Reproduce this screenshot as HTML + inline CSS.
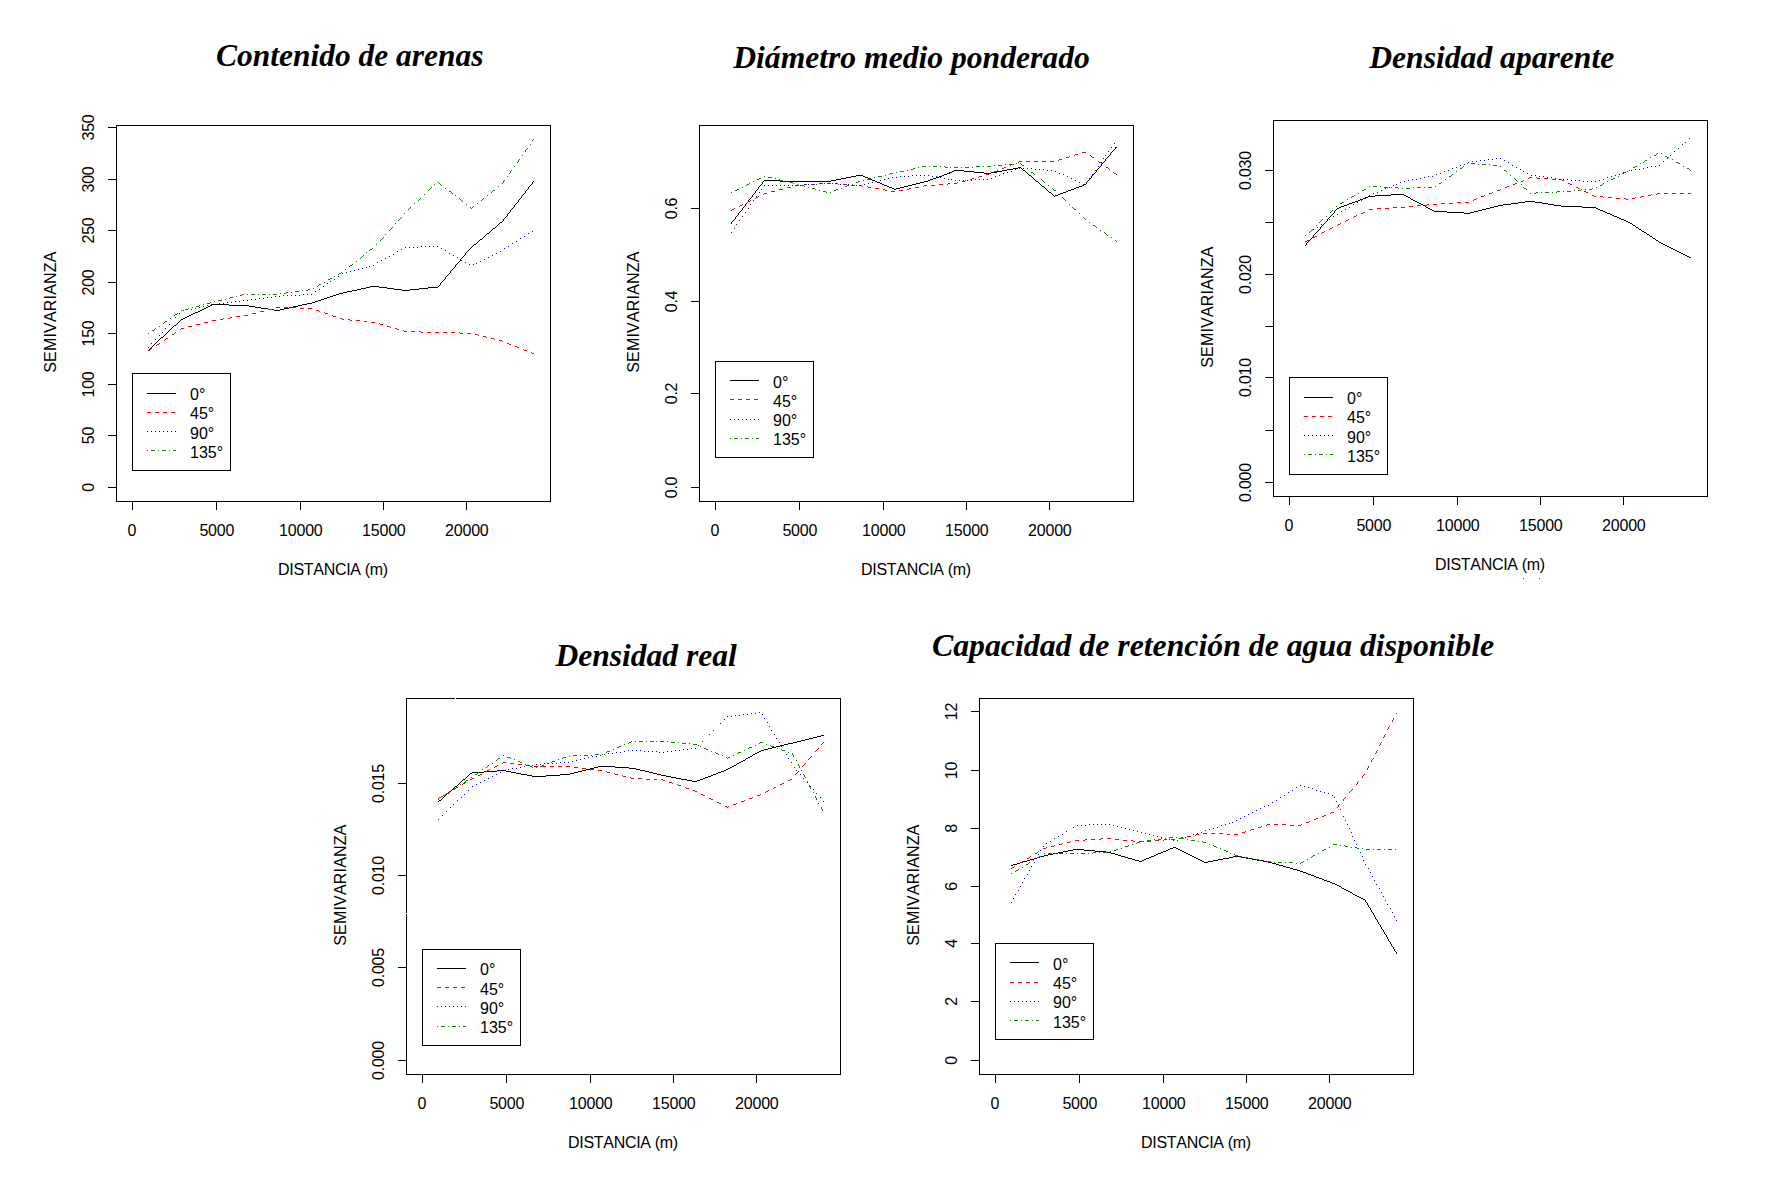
<!DOCTYPE html>
<html lang="es"><head><meta charset="utf-8"><title>Semivariogramas direccionales</title>
<style>html,body{margin:0;padding:0;background:#fff;overflow:hidden}svg{display:block}text{font-family:"Liberation Sans",Arial,sans-serif;font-size:16px;fill:#000;font-kerning:none}.t{font-family:"Liberation Serif","Times New Roman",serif;font-weight:bold;font-style:italic;font-size:32px}.n{letter-spacing:-0.22px}.ln{fill:none;stroke-width:1;shape-rendering:crispEdges}.ax{fill:none;stroke:#000;stroke-width:1;shape-rendering:crispEdges}</style></head><body>
<svg width="1768" height="1186" viewBox="0 0 1768 1186">
<rect width="1768" height="1186" fill="#fff"/>
<g id="panel1">
<text class="t" x="216" y="66" textLength="267.5" lengthAdjust="spacingAndGlyphs">Contenido de arenas</text>
<rect class="ax" x="116.5" y="125.5" width="434" height="376"/>
<text class="n" x="131.9" y="536" text-anchor="middle">0</text>
<text class="n" x="216.8" y="536" text-anchor="middle">5000</text>
<text class="n" x="300.8" y="536" text-anchor="middle">10000</text>
<text class="n" x="383.8" y="536" text-anchor="middle">15000</text>
<text class="n" x="466.8" y="536" text-anchor="middle">20000</text>
<text class="n" transform="translate(94 487.5) rotate(-90)" text-anchor="middle">0</text>
<text class="n" transform="translate(94 435.5) rotate(-90)" text-anchor="middle">50</text>
<text class="n" transform="translate(94 384.5) rotate(-90)" text-anchor="middle">100</text>
<text class="n" transform="translate(94 333.5) rotate(-90)" text-anchor="middle">150</text>
<text class="n" transform="translate(94 282.5) rotate(-90)" text-anchor="middle">200</text>
<text class="n" transform="translate(94 230.5) rotate(-90)" text-anchor="middle">250</text>
<text class="n" transform="translate(94 179.5) rotate(-90)" text-anchor="middle">300</text>
<text class="n" transform="translate(94 127.5) rotate(-90)" text-anchor="middle">350</text>
<path class="ax" d="M132.5 501.5V509.5M216.5 501.5V509.5M300.5 501.5V509.5M383.5 501.5V509.5M466.5 501.5V509.5M116.5 487.5H107.5M116.5 435.5H107.5M116.5 384.5H107.5M116.5 333.5H107.5M116.5 282.5H107.5M116.5 230.5H107.5M116.5 179.5H107.5M116.5 127.5H107.5"/>
<text x="333.1" y="575" text-anchor="middle" textLength="110.1">DISTANCIA (m)</text>
<text transform="translate(56 312.2) rotate(-90)" text-anchor="middle" textLength="121.2">SEMIVARIANZA</text>
<path class="ln" stroke="#000" d="M533 181.5h1M532 182.5h1M532 183.5h1M531 184.5h1M530 185.5h1M529 186.5h1M528 187.5h1M528 188.5h1M527 189.5h1M526 190.5h1M525 191.5h1M525 192.5h1M524 193.5h1M523 194.5h1M522 195.5h1M521 196.5h1M521 197.5h1M520 198.5h1M519 199.5h1M518 200.5h1M518 201.5h1M517 202.5h1M516 203.5h1M515 204.5h1M514 205.5h1M514 206.5h1M513 207.5h1M512 208.5h1M511 209.5h1M510 210.5h1M510 211.5h1M509 212.5h1M508 213.5h1M507 214.5h1M507 215.5h1M506 216.5h1M505 217.5h1M504 218.5h1M503 219.5h1M503 220.5h1M502 221.5h1M500 222.5h2M499 223.5h1M498 224.5h1M497 225.5h1M496 226.5h1M495 227.5h1M493 228.5h2M492 229.5h1M491 230.5h1M490 231.5h1M489 232.5h1M487 233.5h2M486 234.5h1M485 235.5h1M484 236.5h1M483 237.5h1M482 238.5h1M480 239.5h2M479 240.5h1M478 241.5h1M477 242.5h1M476 243.5h1M474 244.5h2M473 245.5h1M472 246.5h1M471 247.5h1M470 248.5h1M469 249.5h1M468 250.5h1M467 251.5h1M466 252.5h1M465 253.5h1M465 254.5h1M464 255.5h1M463 256.5h1M462 257.5h1M461 258.5h1M460 259.5h1M460 260.5h1M459 261.5h1M458 262.5h1M457 263.5h1M456 264.5h1M455 265.5h1M455 266.5h1M454 267.5h1M453 268.5h1M452 269.5h1M451 270.5h1M450 271.5h1M450 272.5h1M449 273.5h1M448 274.5h1M447 275.5h1M446 276.5h1M445 277.5h1M445 278.5h1M444 279.5h1M443 280.5h1M442 281.5h1M441 282.5h1M440 283.5h1M440 284.5h1M439 285.5h1M370 286.5h9M438 286.5h1M366 287.5h4M379 287.5h8M428 287.5h10M361 288.5h5M387 288.5h7M419 288.5h9M357 289.5h4M394 289.5h8M410 289.5h9M352 290.5h5M402 290.5h8M347 291.5h5M343 292.5h4M339 293.5h4M336 294.5h3M333 295.5h3M330 296.5h3M327 297.5h3M324 298.5h3M321 299.5h3M318 300.5h3M315 301.5h3M312 302.5h3M307 303.5h5M212 304.5h17M302 304.5h5M210 305.5h2M229 305.5h20M298 305.5h4M208 306.5h2M249 306.5h6M293 306.5h5M206 307.5h2M255 307.5h6M289 307.5h4M204 308.5h2M261 308.5h7M284 308.5h5M202 309.5h2M268 309.5h6M280 309.5h4M200 310.5h2M274 310.5h6M198 311.5h2M195 312.5h3M193 313.5h2M191 314.5h2M189 315.5h2M187 316.5h2M185 317.5h2M183 318.5h2M181 319.5h2M180 320.5h1M179 321.5h1M178 322.5h1M177 323.5h1M176 324.5h1M174 325.5h2M173 326.5h1M172 327.5h1M171 328.5h1M170 329.5h1M169 330.5h1M168 331.5h1M167 332.5h1M166 333.5h1M165 334.5h1M164 335.5h1M163 336.5h1M161 337.5h2M160 338.5h1M159 339.5h1M158 340.5h1M157 341.5h1M156 342.5h1M155 343.5h1M154 344.5h1M153 345.5h1M152 346.5h1M151 347.5h1M150 348.5h1M149 349.5h1M148 350.5h1"/>
<path class="ln" stroke="#f00" d="M276 307.5h4M284 307.5h4M292 307.5h4M300 308.5h4M308 308.5h4M268 309.5h4M316 310.5h3M260 311.5h4M319 311.5h1M324 312.5h1M252 313.5h4M325 313.5h3M244 315.5h4M332 315.5h1M236 316.5h4M333 316.5h3M230 317.5h2M223 318.5h1M228 318.5h2M340 318.5h2M220 319.5h3M342 319.5h2M348 319.5h2M212 320.5h4M350 320.5h2M356 320.5h4M364 321.5h3M204 322.5h4M371 322.5h4M379 323.5h1M196 324.5h4M380 324.5h3M188 326.5h4M387 326.5h3M390 327.5h1M181 328.5h3M395 328.5h2M180 329.5h1M397 329.5h2M403 330.5h1M404 331.5h3M411 331.5h4M419 331.5h2M175 332.5h1M421 332.5h2M427 332.5h4M435 332.5h4M443 332.5h4M451 332.5h4M459 332.5h1M174 333.5h1M460 333.5h3M467 333.5h4M172 334.5h2M475 334.5h3M478 335.5h1M483 336.5h3M486 337.5h1M166 338.5h2M491 338.5h3M165 339.5h1M494 339.5h1M164 340.5h1M499 340.5h3M502 341.5h1M159 343.5h1M507 343.5h2M157 344.5h2M509 344.5h2M156 345.5h1M515 346.5h2M517 347.5h2M151 348.5h1M150 349.5h1M523 349.5h1M148 350.5h2M524 350.5h3M531 352.5h1M532 353.5h2"/>
<path class="ln" stroke="#00f" d="M532 231.5h1M528 233.5h1M524 236.5h1M520 238.5h1M516 241.5h1M512 243.5h1M421 246.5h1M425 246.5h1M429 246.5h1M433 246.5h1M437 246.5h1M508 246.5h1M405 247.5h1M409 247.5h1M413 247.5h1M417 247.5h1M441 248.5h1M504 248.5h1M401 249.5h1M445 250.5h1M397 251.5h1M500 251.5h1M449 253.5h1M496 253.5h1M393 254.5h1M453 255.5h1M492 255.5h1M389 256.5h1M457 257.5h1M488 257.5h1M385 258.5h1M484 259.5h1M381 260.5h1M461 260.5h1M480 261.5h1M377 262.5h1M465 262.5h1M476 263.5h1M469 264.5h1M473 264.5h1M373 265.5h1M369 266.5h1M366 267.5h1M362 268.5h1M358 269.5h1M354 270.5h1M350 271.5h1M346 272.5h1M342 273.5h1M338 276.5h1M334 279.5h1M330 281.5h1M327 283.5h1M323 286.5h1M319 289.5h1M315 291.5h1M303 294.5h1M307 294.5h1M311 294.5h1M283 295.5h1M287 295.5h1M291 295.5h1M295 295.5h1M299 295.5h1M275 296.5h1M279 296.5h1M267 297.5h1M271 297.5h1M259 298.5h1M263 298.5h1M251 299.5h1M255 299.5h1M243 300.5h1M247 300.5h1M235 301.5h1M239 301.5h1M227 302.5h1M231 302.5h1M219 303.5h1M223 303.5h1M211 304.5h1M215 304.5h1M207 305.5h1M203 306.5h1M199 307.5h1M195 308.5h1M187 309.5h1M191 309.5h1M183 310.5h1M179 313.5h1M175 317.5h1M169 324.5h1M165 328.5h1M162 332.5h1M159 335.5h1M155 339.5h1M151 343.5h1M148 347.5h1"/>
<path class="ln" stroke="#008b00" d="M533 139.5h1M532 140.5h1M530 144.5h1M527 148.5h1M526 149.5h1M525 150.5h1M525 151.5h1M522 155.5h1M519 159.5h1M518 160.5h1M518 161.5h1M517 162.5h1M514 166.5h1M511 170.5h1M510 171.5h1M510 172.5h1M509 173.5h1M507 176.5h1M504 180.5h1M503 181.5h1M438 182.5h1M503 182.5h1M439 183.5h1M502 183.5h1M434 184.5h1M440 184.5h1M441 185.5h1M498 186.5h1M431 187.5h1M430 188.5h1M445 188.5h1M429 189.5h1M428 190.5h1M493 190.5h2M449 191.5h2M492 191.5h1M451 192.5h1M491 192.5h1M452 193.5h1M424 194.5h1M455 195.5h1M487 195.5h1M420 198.5h1M459 198.5h1M483 198.5h1M419 199.5h1M460 199.5h1M482 199.5h1M418 200.5h1M461 200.5h1M481 200.5h1M462 201.5h1M414 203.5h1M477 203.5h1M466 204.5h1M473 206.5h1M410 207.5h1M470 207.5h1M472 207.5h1M409 208.5h1M471 208.5h1M408 209.5h1M404 213.5h1M401 217.5h1M400 218.5h1M399 219.5h1M398 220.5h1M395 223.5h1M392 227.5h1M391 228.5h1M390 229.5h1M389 230.5h1M385 234.5h1M383 237.5h1M382 238.5h1M381 239.5h1M380 240.5h1M376 244.5h1M372 248.5h1M370 249.5h2M369 250.5h1M366 252.5h1M363 255.5h1M362 256.5h1M361 257.5h1M360 258.5h1M356 261.5h1M352 264.5h1M350 265.5h2M349 266.5h1M345 269.5h1M341 272.5h1M339 273.5h2M338 274.5h1M334 276.5h1M330 278.5h2M328 279.5h2M324 282.5h1M319 284.5h2M318 285.5h1M317 286.5h1M313 288.5h1M308 289.5h2M302 290.5h1M306 290.5h2M295 291.5h4M286 292.5h2M291 292.5h1M280 293.5h1M284 293.5h2M242 294.5h2M247 294.5h1M251 294.5h4M258 294.5h1M262 294.5h4M269 294.5h1M273 294.5h4M240 295.5h2M236 296.5h1M230 297.5h3M229 298.5h1M225 299.5h1M218 300.5h4M214 301.5h1M210 302.5h1M207 303.5h3M203 304.5h1M199 305.5h1M196 306.5h3M192 307.5h1M188 308.5h1M185 309.5h3M181 310.5h1M177 313.5h1M175 314.5h2M174 315.5h1M170 318.5h1M165 321.5h2M164 322.5h1M163 323.5h1M159 326.5h1M155 328.5h1M154 329.5h1M152 330.5h2M148 333.5h1"/>
<rect class="ax" x="132.5" y="373.5" width="98" height="97" fill="#fff"/>
<path class="ln" stroke="#000" d="M147 393.5H176"/>
<text x="190" y="399.9">0°</text>
<path class="ln" stroke="#f00" stroke-dasharray="4 4" d="M147 412.5H176"/>
<text x="190" y="418.9">45°</text>
<path class="ln" stroke="#00f" stroke-dasharray="1 3" d="M147 431.5H176"/>
<text x="190" y="438.9">90°</text>
<path class="ln" stroke="#008b00" stroke-dasharray="1 3 4 3" d="M147 450.5H176"/>
<text x="190" y="457.9">135°</text>
</g>
<g id="panel2">
<text class="t" x="733.25" y="67.8" textLength="356.5" lengthAdjust="spacingAndGlyphs">Diámetro medio ponderado</text>
<rect class="ax" x="699.5" y="125.5" width="434" height="376"/>
<text class="n" x="714.9" y="536" text-anchor="middle">0</text>
<text class="n" x="799.8" y="536" text-anchor="middle">5000</text>
<text class="n" x="883.8" y="536" text-anchor="middle">10000</text>
<text class="n" x="966.8" y="536" text-anchor="middle">15000</text>
<text class="n" x="1049.8" y="536" text-anchor="middle">20000</text>
<text class="n" transform="translate(677 487.5) rotate(-90)" text-anchor="middle">0.0</text>
<text class="n" transform="translate(677 393.5) rotate(-90)" text-anchor="middle">0.2</text>
<text class="n" transform="translate(677 301.5) rotate(-90)" text-anchor="middle">0.4</text>
<text class="n" transform="translate(677 208.5) rotate(-90)" text-anchor="middle">0.6</text>
<path class="ax" d="M715.5 501.5V509.5M799.5 501.5V509.5M883.5 501.5V509.5M966.5 501.5V509.5M1049.5 501.5V509.5M699.5 487.5H690.5M699.5 393.5H690.5M699.5 301.5H690.5M699.5 208.5H690.5"/>
<text x="916.1" y="575" text-anchor="middle" textLength="110.1">DISTANCIA (m)</text>
<text transform="translate(639 312.2) rotate(-90)" text-anchor="middle" textLength="121.2">SEMIVARIANZA</text>
<path class="ln" stroke="#000" d="M1115 147.5h2M1115 148.5h1M1114 149.5h1M1113 150.5h1M1112 151.5h1M1111 152.5h1M1110 153.5h1M1110 154.5h1M1109 155.5h1M1108 156.5h1M1107 157.5h1M1106 158.5h1M1105 159.5h1M1105 160.5h1M1104 161.5h1M1103 162.5h1M1102 163.5h1M1101 164.5h1M1101 165.5h1M1100 166.5h1M1018 167.5h3M1099 167.5h1M1013 168.5h5M1021 168.5h1M1098 168.5h1M1007 169.5h6M1022 169.5h1M1097 169.5h1M954 170.5h10M1002 170.5h5M1023 170.5h2M1096 170.5h1M952 171.5h2M964 171.5h10M997 171.5h5M1025 171.5h1M1096 171.5h1M949 172.5h3M974 172.5h10M991 172.5h6M1026 172.5h1M1095 172.5h1M947 173.5h3M984 173.5h7M1027 173.5h1M1094 173.5h1M944 174.5h3M1028 174.5h1M1093 174.5h1M856 175.5h7M942 175.5h2M1029 175.5h2M1092 175.5h1M851 176.5h5M863 176.5h2M939 176.5h3M1031 176.5h1M1091 176.5h1M846 177.5h5M865 177.5h3M936 177.5h3M1032 177.5h1M1091 177.5h1M841 178.5h5M868 178.5h2M933 178.5h3M1033 178.5h1M1090 178.5h1M836 179.5h5M870 179.5h2M930 179.5h3M1034 179.5h1M1089 179.5h1M764 180.5h16M831 180.5h5M872 180.5h3M928 180.5h2M1035 180.5h1M1088 180.5h1M763 181.5h1M780 181.5h51M875 181.5h2M924 181.5h4M1036 181.5h2M1087 181.5h1M762 182.5h1M877 182.5h3M920 182.5h4M1038 182.5h1M1086 182.5h1M762 183.5h1M880 183.5h2M916 183.5h4M1039 183.5h1M1086 183.5h1M761 184.5h1M882 184.5h2M912 184.5h4M1040 184.5h1M1084 184.5h2M760 185.5h1M884 185.5h3M908 185.5h4M1041 185.5h1M1082 185.5h2M759 186.5h1M887 186.5h2M904 186.5h4M1042 186.5h2M1079 186.5h3M758 187.5h1M889 187.5h3M900 187.5h4M1044 187.5h1M1076 187.5h3M758 188.5h1M892 188.5h2M896 188.5h4M1045 188.5h1M1074 188.5h2M757 189.5h1M894 189.5h2M1046 189.5h1M1071 189.5h3M756 190.5h1M1047 190.5h1M1068 190.5h3M755 191.5h1M1048 191.5h1M1066 191.5h2M755 192.5h1M1049 192.5h2M1063 192.5h3M754 193.5h1M1051 193.5h1M1060 193.5h3M753 194.5h1M1052 194.5h1M1058 194.5h2M752 195.5h1M1053 195.5h1M1055 195.5h3M752 196.5h1M1054 196.5h1M751 197.5h1M750 198.5h1M749 199.5h1M748 200.5h1M748 201.5h1M747 202.5h1M746 203.5h1M745 204.5h1M745 205.5h1M744 206.5h1M743 207.5h1M742 208.5h1M742 209.5h1M741 210.5h1M740 211.5h1M739 212.5h1M738 213.5h1M738 214.5h1M737 215.5h1M736 216.5h1M735 217.5h1M735 218.5h1M734 219.5h1M733 220.5h1M732 221.5h1M731 222.5h1M731 223.5h1"/>
<path class="ln" stroke="#f00" d="M1082 152.5h4M1075 154.5h3M1074 155.5h1M1090 155.5h1M1069 156.5h1M1091 156.5h1M1066 157.5h3M1092 157.5h2M1059 159.5h3M1058 160.5h1M1019 161.5h3M1026 161.5h4M1034 161.5h4M1042 161.5h4M1050 161.5h4M1098 161.5h1M1018 162.5h1M1099 162.5h2M1101 163.5h1M1011 164.5h3M1010 165.5h1M1004 167.5h2M1106 167.5h2M1002 168.5h2M1108 168.5h1M1109 169.5h1M997 170.5h1M994 171.5h3M1113 172.5h1M989 173.5h1M1114 173.5h2M986 174.5h3M1116 174.5h1M979 176.5h3M978 177.5h1M972 178.5h2M970 179.5h2M965 180.5h1M962 181.5h3M957 182.5h1M819 183.5h4M827 183.5h4M835 183.5h3M948 183.5h2M954 183.5h3M804 184.5h3M811 184.5h4M838 184.5h1M843 184.5h4M939 184.5h4M947 184.5h1M795 185.5h4M803 185.5h1M851 185.5h4M859 185.5h3M924 185.5h3M931 185.5h4M862 186.5h1M867 186.5h1M923 186.5h1M787 187.5h4M868 187.5h3M915 187.5h4M875 188.5h4M909 188.5h2M779 189.5h4M883 189.5h2M907 189.5h2M885 190.5h2M899 190.5h4M771 191.5h4M891 191.5h4M764 193.5h3M763 194.5h1M758 196.5h1M756 197.5h2M755 198.5h1M750 200.5h1M748 201.5h2M747 202.5h1M742 204.5h1M740 205.5h2M739 206.5h1M734 208.5h1M732 209.5h2M731 210.5h1"/>
<path class="ln" stroke="#00f" d="M1114 143.5h1M1111 147.5h1M1108 151.5h1M1105 155.5h1M1103 158.5h1M1101 162.5h1M1098 166.5h1M1019 168.5h1M1023 168.5h1M1027 168.5h1M1031 168.5h1M1015 169.5h1M1035 169.5h1M1039 169.5h1M1043 169.5h1M1047 170.5h1M1051 170.5h1M1095 170.5h1M1011 171.5h1M1055 171.5h1M1007 172.5h1M1003 173.5h1M1059 173.5h1M1063 174.5h1M1092 174.5h1M912 175.5h1M916 175.5h1M920 175.5h1M924 175.5h1M928 175.5h1M999 175.5h1M900 176.5h1M904 176.5h1M908 176.5h1M932 176.5h1M936 176.5h1M995 176.5h1M1067 176.5h1M892 177.5h1M896 177.5h1M940 177.5h1M888 178.5h1M944 178.5h1M991 178.5h1M1071 178.5h1M1089 178.5h1M884 179.5h1M948 179.5h1M951 179.5h1M975 179.5h1M979 179.5h1M983 179.5h1M987 179.5h1M880 180.5h1M955 180.5h1M959 180.5h1M963 180.5h1M967 180.5h1M971 180.5h1M1075 180.5h1M876 181.5h1M872 182.5h1M1079 182.5h1M1086 182.5h1M820 183.5h1M824 183.5h1M828 183.5h1M832 183.5h1M836 183.5h1M868 183.5h1M804 184.5h1M808 184.5h1M812 184.5h1M816 184.5h1M840 184.5h1M844 184.5h1M848 184.5h1M852 184.5h1M864 184.5h1M1083 184.5h1M764 185.5h1M768 185.5h1M772 185.5h1M776 185.5h1M780 185.5h1M784 185.5h1M788 185.5h1M792 185.5h1M796 185.5h1M800 185.5h1M856 185.5h1M860 185.5h1M761 189.5h1M759 192.5h1M756 196.5h1M753 200.5h1M750 204.5h1M748 208.5h1M745 212.5h1M742 216.5h1M739 220.5h1M736 224.5h1M734 228.5h1M731 232.5h1"/>
<path class="ln" stroke="#008b00" d="M1016 163.5h1M1020 163.5h1M1005 164.5h1M1009 164.5h4M1021 164.5h1M994 165.5h1M998 165.5h4M1022 165.5h2M922 166.5h4M929 166.5h1M933 166.5h4M940 166.5h1M944 166.5h1M976 166.5h4M983 166.5h1M987 166.5h4M918 167.5h1M945 167.5h3M950 167.5h1M954 167.5h4M961 167.5h1M965 167.5h4M972 167.5h1M913 168.5h2M1027 168.5h1M911 169.5h2M907 170.5h1M900 171.5h4M896 172.5h1M1031 172.5h2M890 173.5h3M1033 173.5h1M889 174.5h1M1034 174.5h1M885 175.5h1M764 176.5h1M878 176.5h4M768 177.5h4M874 177.5h1M759 178.5h2M775 178.5h1M870 178.5h1M757 179.5h2M779 179.5h1M867 179.5h3M1041 179.5h1M780 180.5h3M863 180.5h1M1042 180.5h1M753 181.5h1M786 181.5h1M858 181.5h2M1043 181.5h1M790 182.5h3M856 182.5h2M1044 182.5h1M749 183.5h1M793 183.5h1M747 184.5h2M797 184.5h1M852 184.5h1M746 185.5h1M801 185.5h3M847 185.5h2M1048 185.5h1M804 186.5h1M845 186.5h2M742 187.5h1M808 187.5h1M812 188.5h3M841 188.5h1M1052 188.5h1M737 189.5h2M815 189.5h1M836 189.5h2M1053 189.5h1M735 190.5h2M819 190.5h1M834 190.5h2M1054 190.5h2M823 191.5h3M731 192.5h1M826 192.5h1M830 192.5h1M1062 197.5h1M1063 198.5h1M1064 199.5h1M1065 200.5h1M1069 204.5h1M1072 207.5h1M1073 208.5h1M1074 209.5h2M1079 213.5h1M1083 217.5h1M1084 218.5h1M1085 219.5h1M1089 222.5h1M1093 225.5h2M1095 226.5h1M1096 227.5h1M1100 230.5h1M1104 232.5h1M1105 233.5h1M1106 234.5h1M1107 235.5h1M1111 237.5h1M1115 240.5h1M1116 241.5h1"/>
<rect class="ax" x="715.5" y="361.5" width="98" height="96" fill="#fff"/>
<path class="ln" stroke="#000" d="M730 380.5H759"/>
<text x="773" y="387.9">0°</text>
<path class="ln" stroke="#f00" stroke-dasharray="4 4" d="M730 399.5H759"/>
<text x="773" y="406.9">45°</text>
<path class="ln" stroke="#00f" stroke-dasharray="1 3" d="M730 419.5H759"/>
<text x="773" y="425.9">90°</text>
<path class="ln" stroke="#008b00" stroke-dasharray="1 3 4 3" d="M730 438.5H759"/>
<text x="773" y="444.9">135°</text>
</g>
<g id="panel3">
<text class="t" x="1369.25" y="67.8" textLength="245" lengthAdjust="spacingAndGlyphs">Densidad aparente</text>
<rect class="ax" x="1273.5" y="120.5" width="434" height="376"/>
<text class="n" x="1288.9" y="531" text-anchor="middle">0</text>
<text class="n" x="1373.8" y="531" text-anchor="middle">5000</text>
<text class="n" x="1457.8" y="531" text-anchor="middle">10000</text>
<text class="n" x="1540.8" y="531" text-anchor="middle">15000</text>
<text class="n" x="1623.8" y="531" text-anchor="middle">20000</text>
<text class="n" transform="translate(1251 482.5) rotate(-90)" text-anchor="middle">0.000</text>
<text class="n" transform="translate(1251 377.5) rotate(-90)" text-anchor="middle">0.010</text>
<text class="n" transform="translate(1251 274.5) rotate(-90)" text-anchor="middle">0.020</text>
<text class="n" transform="translate(1251 170.5) rotate(-90)" text-anchor="middle">0.030</text>
<path class="ax" d="M1289.5 496.5V504.5M1373.5 496.5V504.5M1457.5 496.5V504.5M1540.5 496.5V504.5M1623.5 496.5V504.5M1273.5 482.5H1264.5M1273.5 430.5H1264.5M1273.5 377.5H1264.5M1273.5 326.5H1264.5M1273.5 274.5H1264.5M1273.5 222.5H1264.5M1273.5 170.5H1264.5"/>
<text x="1490.1" y="570" text-anchor="middle" textLength="110.1">DISTANCIA (m)</text>
<text transform="translate(1213 307.2) rotate(-90)" text-anchor="middle" textLength="121.2">SEMIVARIANZA</text>
<path class="ln" stroke="#000" d="M1391 194.5h13M1375 195.5h16M1404 195.5h2M1368 196.5h7M1406 196.5h2M1366 197.5h2M1408 197.5h2M1363 198.5h3M1410 198.5h1M1360 199.5h3M1411 199.5h2M1358 200.5h2M1413 200.5h2M1355 201.5h3M1415 201.5h2M1525 201.5h10M1352 202.5h3M1417 202.5h2M1518 202.5h7M1535 202.5h7M1349 203.5h3M1419 203.5h2M1511 203.5h7M1542 203.5h6M1347 204.5h2M1421 204.5h2M1503 204.5h8M1548 204.5h6M1344 205.5h3M1423 205.5h2M1498 205.5h5M1554 205.5h7M1341 206.5h3M1425 206.5h1M1494 206.5h4M1561 206.5h21M1339 207.5h2M1426 207.5h2M1490 207.5h4M1582 207.5h14M1337 208.5h2M1428 208.5h2M1486 208.5h4M1596 208.5h2M1336 209.5h1M1430 209.5h2M1482 209.5h4M1598 209.5h2M1335 210.5h1M1432 210.5h2M1478 210.5h4M1600 210.5h3M1334 211.5h1M1434 211.5h13M1474 211.5h4M1603 211.5h2M1334 212.5h1M1447 212.5h17M1470 212.5h4M1605 212.5h2M1333 213.5h1M1464 213.5h6M1607 213.5h3M1332 214.5h1M1610 214.5h2M1331 215.5h1M1612 215.5h2M1330 216.5h1M1614 216.5h3M1329 217.5h1M1617 217.5h2M1328 218.5h1M1619 218.5h2M1327 219.5h1M1621 219.5h3M1327 220.5h1M1624 220.5h2M1326 221.5h1M1626 221.5h2M1325 222.5h1M1628 222.5h2M1324 223.5h1M1630 223.5h2M1323 224.5h1M1632 224.5h1M1322 225.5h1M1633 225.5h2M1321 226.5h1M1635 226.5h1M1320 227.5h1M1636 227.5h2M1320 228.5h1M1638 228.5h1M1319 229.5h1M1639 229.5h2M1318 230.5h1M1641 230.5h1M1317 231.5h1M1642 231.5h2M1316 232.5h1M1644 232.5h2M1315 233.5h1M1646 233.5h1M1314 234.5h1M1647 234.5h2M1313 235.5h1M1649 235.5h1M1313 236.5h1M1650 236.5h2M1312 237.5h1M1652 237.5h1M1311 238.5h1M1653 238.5h2M1310 239.5h1M1655 239.5h1M1309 240.5h1M1656 240.5h2M1308 241.5h1M1658 241.5h1M1307 242.5h1M1659 242.5h2M1306 243.5h1M1661 243.5h2M1306 244.5h1M1663 244.5h2M1305 245.5h1M1665 245.5h2M1667 246.5h2M1669 247.5h2M1671 248.5h2M1673 249.5h2M1675 250.5h2M1677 251.5h2M1679 252.5h2M1681 253.5h2M1683 254.5h2M1685 255.5h2M1687 256.5h2M1689 257.5h2"/>
<path class="ln" stroke="#f00" d="M1529 177.5h3M1536 177.5h1M1528 178.5h1M1537 178.5h3M1544 178.5h4M1552 179.5h4M1560 179.5h2M1523 180.5h1M1562 180.5h2M1521 181.5h2M1515 183.5h2M1568 183.5h2M1513 184.5h2M1570 184.5h2M1507 186.5h2M1505 187.5h2M1576 187.5h2M1578 188.5h2M1500 189.5h1M1497 190.5h3M1584 191.5h2M1492 192.5h1M1586 192.5h2M1489 193.5h3M1657 193.5h3M1664 193.5h4M1672 193.5h4M1680 193.5h4M1688 193.5h3M1651 194.5h1M1656 194.5h1M1484 195.5h1M1592 195.5h2M1648 195.5h3M1481 196.5h3M1594 196.5h2M1600 196.5h3M1641 196.5h3M1603 197.5h1M1608 197.5h4M1635 197.5h1M1640 197.5h1M1476 198.5h1M1616 198.5h4M1624 198.5h2M1632 198.5h3M1474 199.5h2M1626 199.5h2M1473 200.5h1M1457 202.5h4M1465 202.5h4M1441 203.5h4M1449 203.5h4M1427 204.5h2M1433 204.5h4M1417 205.5h4M1425 205.5h2M1409 206.5h4M1393 207.5h4M1401 207.5h4M1377 208.5h4M1385 208.5h4M1369 209.5h4M1363 212.5h2M1361 213.5h2M1356 215.5h1M1354 216.5h2M1353 217.5h1M1348 219.5h1M1346 220.5h2M1345 221.5h1M1340 223.5h1M1338 224.5h2M1337 225.5h1M1332 227.5h1M1330 228.5h2M1329 229.5h1M1324 231.5h1M1322 232.5h2M1321 233.5h1M1315 236.5h2M1313 237.5h2M1307 240.5h2M1305 241.5h2"/>
<path class="ln" stroke="#00f" d="M1689 138.5h1M1685 142.5h1M1682 144.5h1M1678 148.5h1M1674 151.5h1M1670 155.5h1M1496 158.5h1M1500 158.5h1M1667 158.5h1M1488 159.5h1M1492 159.5h1M1480 160.5h1M1484 160.5h1M1504 160.5h1M1472 161.5h1M1476 161.5h1M1663 161.5h1M1468 162.5h1M1508 162.5h1M1464 164.5h1M1460 165.5h1M1512 165.5h1M1659 165.5h1M1651 166.5h1M1655 166.5h1M1456 167.5h1M1516 167.5h1M1647 167.5h1M1452 168.5h1M1643 168.5h1M1520 169.5h1M1635 169.5h1M1639 169.5h1M1448 170.5h1M1631 170.5h1M1444 171.5h1M1523 171.5h1M1627 171.5h1M1623 172.5h1M1440 173.5h1M1527 173.5h1M1436 174.5h1M1619 174.5h1M1531 175.5h1M1535 175.5h1M1615 175.5h1M1428 176.5h1M1432 176.5h1M1539 176.5h1M1543 176.5h1M1611 176.5h1M1424 177.5h1M1547 177.5h1M1551 177.5h1M1607 177.5h1M1420 178.5h1M1555 178.5h1M1412 179.5h1M1416 179.5h1M1559 179.5h1M1563 179.5h1M1567 179.5h1M1603 179.5h1M1408 180.5h1M1571 180.5h1M1575 180.5h1M1579 180.5h1M1599 180.5h1M1404 181.5h1M1583 181.5h1M1587 181.5h1M1591 181.5h1M1595 181.5h1M1400 182.5h1M1396 184.5h1M1393 185.5h1M1389 187.5h1M1385 188.5h1M1381 190.5h1M1377 192.5h1M1373 193.5h1M1369 195.5h1M1365 197.5h1M1361 200.5h1M1357 202.5h1M1353 204.5h1M1349 207.5h1M1345 209.5h1M1341 211.5h1M1337 214.5h1M1333 216.5h1M1329 219.5h1M1325 222.5h1M1321 224.5h1M1317 227.5h1M1313 229.5h1M1309 232.5h1M1305 235.5h1"/>
<path class="ln" stroke="#008b00" d="M1657 153.5h1M1661 153.5h1M1656 154.5h1M1654 155.5h2M1665 156.5h2M1650 157.5h1M1667 157.5h2M1672 159.5h1M1645 160.5h2M1644 161.5h1M1643 162.5h1M1676 162.5h2M1467 163.5h1M1471 163.5h4M1640 163.5h1M1678 163.5h2M1478 164.5h1M1482 164.5h4M1489 164.5h1M1493 165.5h4M1463 166.5h1M1500 166.5h1M1635 166.5h2M1683 166.5h1M1462 167.5h1M1633 167.5h2M1460 168.5h2M1687 168.5h2M1689 169.5h1M1504 170.5h2M1629 170.5h1M1690 170.5h1M1456 171.5h1M1506 171.5h1M1624 172.5h2M1622 173.5h2M1452 174.5h1M1451 175.5h1M1510 175.5h1M1449 176.5h2M1618 176.5h1M1514 178.5h1M1613 178.5h2M1445 179.5h1M1515 179.5h1M1611 179.5h2M1516 180.5h1M1517 181.5h1M1607 181.5h1M1441 182.5h1M1439 183.5h2M1603 183.5h1M1521 184.5h1M1602 184.5h1M1600 185.5h2M1369 186.5h1M1373 186.5h4M1380 186.5h1M1435 186.5h1M1384 187.5h4M1391 187.5h1M1395 187.5h3M1413 187.5h1M1417 187.5h4M1424 187.5h1M1428 187.5h4M1523 187.5h1M1596 187.5h1M1398 188.5h1M1402 188.5h1M1406 188.5h4M1524 188.5h2M1592 188.5h1M1364 189.5h2M1526 189.5h1M1581 189.5h1M1585 189.5h1M1589 189.5h3M1362 190.5h2M1574 190.5h1M1578 190.5h3M1557 191.5h3M1563 191.5h1M1567 191.5h4M1536 192.5h2M1541 192.5h1M1545 192.5h4M1552 192.5h1M1556 192.5h1M1358 193.5h1M1530 193.5h1M1534 193.5h2M1354 195.5h1M1352 196.5h2M1351 197.5h1M1347 199.5h1M1342 202.5h2M1340 203.5h2M1336 206.5h1M1332 210.5h1M1331 211.5h1M1330 212.5h1M1326 216.5h1M1322 219.5h1M1321 220.5h1M1320 221.5h1M1319 222.5h1M1316 225.5h1M1312 229.5h1M1311 230.5h1M1310 231.5h1M1309 232.5h1M1305 235.5h1"/>
<rect class="ax" x="1289.5" y="377.5" width="98" height="97" fill="#fff"/>
<path class="ln" stroke="#000" d="M1304 397.5H1333"/>
<text x="1347" y="403.9">0°</text>
<path class="ln" stroke="#f00" stroke-dasharray="4 4" d="M1304 416.5H1333"/>
<text x="1347" y="422.9">45°</text>
<path class="ln" stroke="#00f" stroke-dasharray="1 3" d="M1304 435.5H1333"/>
<text x="1347" y="442.9">90°</text>
<path class="ln" stroke="#008b00" stroke-dasharray="1 3 4 3" d="M1304 454.5H1333"/>
<text x="1347" y="461.9">135°</text>
</g>
<g id="panel4">
<text class="t" x="555.5" y="665.8" textLength="181.25" lengthAdjust="spacingAndGlyphs">Densidad real</text>
<rect class="ax" x="406.5" y="698.5" width="434" height="376"/>
<text class="n" x="421.9" y="1109" text-anchor="middle">0</text>
<text class="n" x="506.8" y="1109" text-anchor="middle">5000</text>
<text class="n" x="590.8" y="1109" text-anchor="middle">10000</text>
<text class="n" x="673.8" y="1109" text-anchor="middle">15000</text>
<text class="n" x="756.8" y="1109" text-anchor="middle">20000</text>
<text class="n" transform="translate(384 1060.5) rotate(-90)" text-anchor="middle">0.000</text>
<text class="n" transform="translate(384 967.5) rotate(-90)" text-anchor="middle">0.005</text>
<text class="n" transform="translate(384 875.5) rotate(-90)" text-anchor="middle">0.010</text>
<text class="n" transform="translate(384 783.5) rotate(-90)" text-anchor="middle">0.015</text>
<path class="ax" d="M422.5 1074.5V1082.5M506.5 1074.5V1082.5M590.5 1074.5V1082.5M673.5 1074.5V1082.5M756.5 1074.5V1082.5M406.5 1060.5H397.5M406.5 967.5H397.5M406.5 875.5H397.5M406.5 783.5H397.5"/>
<text x="623.1" y="1148" text-anchor="middle" textLength="110.1">DISTANCIA (m)</text>
<text transform="translate(346 885.2) rotate(-90)" text-anchor="middle" textLength="121.2">SEMIVARIANZA</text>
<path class="ln" stroke="#000" d="M821 735.5h3M817 736.5h4M813 737.5h4M809 738.5h4M805 739.5h4M801 740.5h4M797 741.5h4M793 742.5h4M788 743.5h5M784 744.5h4M780 745.5h4M776 746.5h4M772 747.5h4M768 748.5h4M764 749.5h4M761 750.5h3M759 751.5h2M757 752.5h2M755 753.5h2M753 754.5h2M752 755.5h1M750 756.5h2M748 757.5h2M746 758.5h2M745 759.5h1M743 760.5h2M741 761.5h2M739 762.5h2M737 763.5h2M736 764.5h1M734 765.5h2M598 766.5h17M732 766.5h2M594 767.5h4M615 767.5h14M730 767.5h2M590 768.5h4M629 768.5h7M728 768.5h2M586 769.5h4M636 769.5h4M726 769.5h2M497 770.5h9M582 770.5h4M640 770.5h5M724 770.5h2M484 771.5h13M506 771.5h5M578 771.5h4M645 771.5h4M721 771.5h3M472 772.5h12M511 772.5h5M574 772.5h4M649 772.5h4M718 772.5h3M470 773.5h2M516 773.5h5M570 773.5h4M653 773.5h4M716 773.5h2M469 774.5h1M521 774.5h6M560 774.5h10M657 774.5h4M713 774.5h3M468 775.5h1M527 775.5h5M546 775.5h14M661 775.5h5M711 775.5h2M467 776.5h1M532 776.5h14M666 776.5h5M708 776.5h3M466 777.5h1M671 777.5h5M705 777.5h3M465 778.5h1M676 778.5h5M703 778.5h2M463 779.5h2M681 779.5h6M700 779.5h3M462 780.5h1M687 780.5h5M697 780.5h3M461 781.5h1M692 781.5h5M460 782.5h1M459 783.5h1M458 784.5h1M457 785.5h1M455 786.5h2M454 787.5h1M453 788.5h1M452 789.5h1M451 790.5h1M450 791.5h1M449 792.5h1M447 793.5h2M446 794.5h1M445 795.5h1M444 796.5h1M443 797.5h1M442 798.5h1M441 799.5h1M439 800.5h2M438 801.5h1"/>
<path class="ln" stroke="#f00" d="M823 742.5h1M822 743.5h1M821 744.5h1M818 748.5h1M817 749.5h1M816 750.5h1M815 751.5h1M811 756.5h1M810 757.5h1M809 758.5h1M808 759.5h1M503 762.5h3M502 763.5h1M510 763.5h4M805 763.5h1M518 764.5h4M804 764.5h1M497 765.5h1M526 765.5h4M803 765.5h1M495 766.5h2M534 766.5h4M542 766.5h4M550 766.5h4M558 766.5h4M566 766.5h4M802 766.5h1M494 767.5h1M574 767.5h4M582 768.5h4M489 769.5h1M590 769.5h4M487 770.5h2M598 770.5h4M486 771.5h1M606 771.5h1M798 771.5h1M607 772.5h3M797 772.5h1M614 773.5h1M796 773.5h1M480 774.5h2M615 774.5h3M795 774.5h1M478 775.5h2M622 775.5h1M623 776.5h3M630 777.5h1M472 778.5h2M631 778.5h3M638 778.5h4M470 779.5h2M646 779.5h4M654 779.5h3M661 779.5h2M790 779.5h2M663 780.5h2M788 780.5h2M465 782.5h1M669 782.5h3M463 783.5h2M672 783.5h1M782 783.5h2M462 784.5h1M677 784.5h1M780 784.5h2M678 785.5h3M456 787.5h2M685 787.5h1M774 787.5h2M455 788.5h1M686 788.5h3M773 788.5h1M454 789.5h1M693 790.5h2M768 790.5h1M449 791.5h1M695 791.5h2M766 791.5h2M448 792.5h1M765 792.5h1M446 793.5h2M701 794.5h2M760 794.5h1M703 795.5h2M757 795.5h3M441 796.5h1M439 797.5h2M752 797.5h1M438 798.5h1M709 798.5h2M749 798.5h3M711 799.5h2M744 800.5h1M741 801.5h3M717 802.5h2M719 803.5h2M736 803.5h1M733 804.5h3M725 806.5h2M728 806.5h1M727 807.5h1"/>
<path class="ln" stroke="#00f" d="M759 712.5h1M751 713.5h1M755 713.5h1M743 714.5h1M747 714.5h1M762 714.5h1M735 715.5h1M739 715.5h1M727 716.5h1M731 716.5h1M764 718.5h1M724 719.5h1M767 722.5h1M720 723.5h1M769 726.5h1M713 730.5h1M771 730.5h1M709 734.5h1M774 734.5h1M776 738.5h1M702 741.5h1M779 742.5h1M698 745.5h1M781 746.5h1M691 748.5h1M695 748.5h1M683 749.5h1M687 749.5h1M628 750.5h1M632 750.5h1M636 750.5h1M640 750.5h1M675 750.5h1M679 750.5h1M783 750.5h1M624 751.5h1M644 751.5h1M648 751.5h1M652 751.5h1M656 751.5h1M667 751.5h1M671 751.5h1M616 752.5h1M620 752.5h1M659 752.5h1M663 752.5h1M608 753.5h1M612 753.5h1M604 754.5h1M786 754.5h1M600 755.5h1M592 756.5h1M596 756.5h1M588 757.5h1M584 758.5h1M788 758.5h1M580 759.5h1M576 760.5h1M572 761.5h1M560 762.5h1M564 762.5h1M568 762.5h1M791 762.5h1M544 763.5h1M548 763.5h1M552 763.5h1M556 763.5h1M536 764.5h1M540 764.5h1M528 765.5h1M532 765.5h1M524 766.5h1M520 767.5h1M794 767.5h1M512 768.5h1M516 768.5h1M508 769.5h1M504 770.5h1M796 770.5h1M500 772.5h1M496 774.5h1M800 774.5h1M492 776.5h1M488 778.5h1M803 778.5h1M484 780.5h1M480 782.5h1M807 782.5h1M476 784.5h1M472 786.5h1M810 786.5h1M813 789.5h1M468 790.5h1M816 793.5h1M464 794.5h1M461 797.5h1M820 797.5h1M457 800.5h1M823 801.5h1M453 804.5h1M450 807.5h1M446 811.5h1M442 815.5h1M438 819.5h1"/>
<path class="ln" stroke="#008b00" d="M631 741.5h1M635 741.5h1M639 741.5h4M646 741.5h1M650 741.5h4M656 741.5h1M660 741.5h4M667 741.5h1M629 742.5h2M671 742.5h4M678 742.5h1M760 742.5h3M628 743.5h1M682 743.5h4M689 743.5h1M759 743.5h1M624 744.5h1M693 744.5h4M766 744.5h1M755 745.5h1M770 745.5h1M619 746.5h2M700 746.5h1M771 746.5h3M617 747.5h2M749 747.5h3M704 748.5h2M748 748.5h1M777 748.5h1M613 749.5h1M706 749.5h2M781 749.5h1M744 750.5h1M782 750.5h3M607 751.5h3M711 751.5h1M606 752.5h1M715 752.5h1M738 752.5h3M788 752.5h1M716 753.5h2M737 753.5h1M792 753.5h1M595 754.5h4M602 754.5h1M718 754.5h1M792 754.5h1M503 755.5h1M573 755.5h4M580 755.5h1M584 755.5h4M591 755.5h1M722 755.5h1M733 755.5h1M793 755.5h1M569 756.5h1M793 756.5h1M507 757.5h3M563 757.5h3M726 757.5h1M728 757.5h2M498 758.5h2M510 758.5h1M562 758.5h1M727 758.5h1M497 759.5h1M514 759.5h1M558 759.5h1M496 760.5h1M796 760.5h1M518 761.5h2M552 761.5h3M520 762.5h2M551 762.5h1M492 763.5h1M547 763.5h1M525 764.5h1M798 764.5h1M488 765.5h1M529 765.5h1M542 765.5h2M798 765.5h1M487 766.5h1M530 766.5h2M540 766.5h2M799 766.5h1M486 767.5h1M532 767.5h1M536 767.5h1M799 767.5h1M482 769.5h1M801 770.5h1M478 772.5h1M477 773.5h1M475 774.5h2M803 774.5h1M804 775.5h1M804 776.5h1M471 777.5h1M805 777.5h1M466 780.5h2M465 781.5h1M807 781.5h1M464 782.5h1M460 784.5h1M809 785.5h1M809 786.5h1M456 787.5h1M810 787.5h1M454 788.5h2M810 788.5h1M453 789.5h1M449 792.5h1M813 792.5h1M445 794.5h1M443 795.5h2M442 796.5h1M815 796.5h1M815 797.5h1M816 798.5h1M438 799.5h1M816 799.5h1M818 803.5h1M821 807.5h1M821 808.5h1M822 809.5h1M822 810.5h1"/>
<rect class="ax" x="422.5" y="949.5" width="98" height="96" fill="#fff"/>
<path class="ln" stroke="#000" d="M437 968.5H466"/>
<text x="480" y="974.9">0°</text>
<path class="ln" stroke="#f00" stroke-dasharray="4 4" d="M437 987.5H466"/>
<text x="480" y="994.9">45°</text>
<path class="ln" stroke="#00f" stroke-dasharray="1 3" d="M437 1006.5H466"/>
<text x="480" y="1013.9">90°</text>
<path class="ln" stroke="#008b00" stroke-dasharray="1 3 4 3" d="M437 1026.5H466"/>
<text x="480" y="1032.9">135°</text>
</g>
<g id="panel5">
<text class="t" x="932" y="656" textLength="562.1" lengthAdjust="spacingAndGlyphs">Capacidad de retención de agua disponible</text>
<rect class="ax" x="979.5" y="698.5" width="434" height="376"/>
<text class="n" x="994.9" y="1109" text-anchor="middle">0</text>
<text class="n" x="1079.8" y="1109" text-anchor="middle">5000</text>
<text class="n" x="1163.8" y="1109" text-anchor="middle">10000</text>
<text class="n" x="1246.8" y="1109" text-anchor="middle">15000</text>
<text class="n" x="1329.8" y="1109" text-anchor="middle">20000</text>
<text class="n" transform="translate(957 1060.5) rotate(-90)" text-anchor="middle">0</text>
<text class="n" transform="translate(957 1001.5) rotate(-90)" text-anchor="middle">2</text>
<text class="n" transform="translate(957 943.5) rotate(-90)" text-anchor="middle">4</text>
<text class="n" transform="translate(957 886.5) rotate(-90)" text-anchor="middle">6</text>
<text class="n" transform="translate(957 828.5) rotate(-90)" text-anchor="middle">8</text>
<text class="n" transform="translate(957 770.5) rotate(-90)" text-anchor="middle">10</text>
<text class="n" transform="translate(957 711.5) rotate(-90)" text-anchor="middle">12</text>
<path class="ax" d="M995.5 1074.5V1082.5M1079.5 1074.5V1082.5M1163.5 1074.5V1082.5M1246.5 1074.5V1082.5M1329.5 1074.5V1082.5M979.5 1060.5H970.5M979.5 1001.5H970.5M979.5 943.5H970.5M979.5 886.5H970.5M979.5 828.5H970.5M979.5 770.5H970.5M979.5 711.5H970.5"/>
<text x="1196.1" y="1148" text-anchor="middle" textLength="110.1">DISTANCIA (m)</text>
<text transform="translate(919 885.2) rotate(-90)" text-anchor="middle" textLength="121.2">SEMIVARIANZA</text>
<path class="ln" stroke="#000" d="M1173 847.5h3M1170 848.5h3M1176 848.5h2M1073 849.5h11M1168 849.5h2M1178 849.5h2M1068 850.5h5M1084 850.5h11M1166 850.5h2M1180 850.5h2M1063 851.5h5M1095 851.5h11M1163 851.5h3M1182 851.5h2M1058 852.5h5M1106 852.5h5M1161 852.5h2M1184 852.5h2M1053 853.5h5M1111 853.5h4M1158 853.5h3M1186 853.5h2M1048 854.5h5M1115 854.5h3M1156 854.5h2M1188 854.5h2M1044 855.5h4M1118 855.5h3M1154 855.5h2M1190 855.5h2M1040 856.5h4M1121 856.5h4M1151 856.5h3M1192 856.5h2M1233 856.5h8M1037 857.5h3M1125 857.5h3M1149 857.5h2M1194 857.5h2M1229 857.5h4M1241 857.5h5M1034 858.5h3M1128 858.5h4M1146 858.5h3M1196 858.5h2M1223 858.5h6M1246 858.5h6M1030 859.5h4M1132 859.5h3M1144 859.5h2M1198 859.5h2M1218 859.5h5M1252 859.5h5M1027 860.5h3M1135 860.5h4M1142 860.5h2M1200 860.5h2M1213 860.5h5M1257 860.5h6M1023 861.5h4M1139 861.5h3M1202 861.5h2M1208 861.5h5M1263 861.5h5M1020 862.5h3M1204 862.5h4M1268 862.5h4M1017 863.5h3M1272 863.5h4M1013 864.5h4M1276 864.5h3M1011 865.5h2M1279 865.5h4M1283 866.5h3M1286 867.5h4M1290 868.5h3M1293 869.5h4M1297 870.5h3M1300 871.5h3M1303 872.5h3M1306 873.5h2M1308 874.5h3M1311 875.5h3M1314 876.5h2M1316 877.5h3M1319 878.5h3M1322 879.5h2M1324 880.5h3M1327 881.5h3M1330 882.5h2M1332 883.5h3M1335 884.5h2M1337 885.5h2M1339 886.5h2M1341 887.5h1M1342 888.5h2M1344 889.5h2M1346 890.5h2M1348 891.5h2M1350 892.5h2M1352 893.5h1M1353 894.5h2M1355 895.5h2M1357 896.5h2M1359 897.5h2M1361 898.5h2M1363 899.5h2M1365 900.5h1M1365 901.5h1M1366 902.5h1M1367 903.5h1M1367 904.5h1M1368 905.5h1M1368 906.5h1M1369 907.5h1M1370 908.5h1M1370 909.5h1M1371 910.5h1M1371 911.5h1M1372 912.5h1M1373 913.5h1M1373 914.5h1M1374 915.5h1M1374 916.5h1M1375 917.5h1M1375 918.5h1M1376 919.5h1M1377 920.5h1M1377 921.5h1M1378 922.5h1M1378 923.5h1M1379 924.5h1M1380 925.5h1M1380 926.5h1M1381 927.5h1M1381 928.5h1M1382 929.5h1M1383 930.5h1M1383 931.5h1M1384 932.5h1M1384 933.5h1M1385 934.5h1M1386 935.5h1M1386 936.5h1M1387 937.5h1M1387 938.5h1M1388 939.5h1M1388 940.5h1M1389 941.5h1M1390 942.5h1M1390 943.5h1M1391 944.5h1M1391 945.5h1M1392 946.5h1M1393 947.5h1M1393 948.5h1M1394 949.5h1M1394 950.5h1M1395 951.5h1M1396 952.5h1M1396 953.5h1"/>
<path class="ln" stroke="#f00" d="M1396 713.5h1M1393 718.5h1M1393 719.5h1M1392 720.5h1M1392 721.5h1M1389 726.5h1M1388 727.5h1M1388 728.5h1M1387 729.5h1M1385 734.5h1M1384 735.5h1M1384 736.5h1M1383 737.5h1M1381 742.5h1M1380 743.5h1M1380 744.5h1M1379 745.5h1M1377 750.5h1M1376 751.5h1M1376 752.5h1M1375 753.5h1M1373 758.5h1M1372 759.5h1M1371 760.5h1M1371 761.5h1M1368 766.5h1M1368 767.5h1M1367 768.5h1M1367 769.5h1M1364 774.5h1M1363 775.5h1M1362 776.5h1M1362 777.5h1M1358 781.5h1M1357 782.5h1M1357 783.5h1M1356 784.5h1M1352 789.5h1M1351 790.5h1M1350 791.5h1M1349 792.5h1M1345 797.5h1M1344 798.5h1M1343 799.5h1M1343 800.5h1M1339 804.5h1M1338 805.5h1M1338 806.5h1M1337 807.5h1M1331 812.5h3M1330 813.5h1M1324 815.5h2M1322 816.5h2M1316 818.5h2M1314 819.5h2M1309 821.5h1M1306 822.5h3M1267 824.5h3M1274 824.5h4M1282 824.5h4M1301 824.5h1M1266 825.5h1M1290 825.5h4M1298 825.5h3M1261 826.5h1M1258 827.5h3M1251 829.5h3M1250 830.5h1M1245 831.5h1M1242 832.5h3M1203 833.5h4M1211 833.5h4M1219 833.5h4M1196 834.5h3M1227 834.5h3M1234 834.5h4M1195 835.5h1M1187 836.5h4M1181 837.5h2M1101 838.5h2M1107 838.5h4M1179 838.5h2M1085 839.5h2M1091 839.5h4M1099 839.5h2M1115 839.5h4M1164 839.5h3M1171 839.5h4M1075 840.5h4M1083 840.5h2M1123 840.5h4M1131 840.5h2M1155 840.5h4M1163 840.5h1M1070 841.5h1M1133 841.5h2M1139 841.5h4M1147 841.5h4M1067 842.5h3M1062 843.5h1M1059 844.5h3M1054 845.5h1M1051 846.5h3M1046 847.5h1M1043 848.5h3M1038 851.5h1M1037 852.5h1M1035 853.5h2M1030 856.5h1M1029 857.5h1M1027 858.5h2M1022 861.5h1M1020 862.5h2M1019 863.5h1M1014 866.5h1M1012 867.5h2M1011 868.5h1"/>
<path class="ln" stroke="#00f" d="M1300 785.5h1M1304 786.5h1M1296 787.5h1M1308 787.5h1M1312 788.5h1M1292 790.5h1M1316 790.5h1M1320 791.5h1M1288 792.5h1M1324 792.5h1M1328 793.5h1M1284 795.5h1M1332 795.5h1M1280 797.5h1M1334 797.5h1M1276 800.5h1M1336 801.5h1M1272 802.5h1M1268 805.5h1M1338 805.5h1M1264 806.5h1M1260 808.5h1M1340 809.5h1M1256 810.5h1M1252 812.5h1M1248 814.5h1M1244 816.5h1M1343 816.5h1M1240 818.5h1M1236 820.5h1M1345 820.5h1M1232 822.5h1M1229 823.5h1M1089 824.5h1M1093 824.5h1M1097 824.5h1M1101 824.5h1M1105 824.5h1M1109 824.5h1M1225 824.5h1M1347 824.5h1M1077 825.5h1M1081 825.5h1M1085 825.5h1M1113 825.5h1M1221 825.5h1M1117 826.5h1M1073 827.5h1M1121 827.5h1M1217 827.5h1M1125 828.5h1M1213 828.5h1M1349 828.5h1M1129 829.5h1M1209 829.5h1M1133 830.5h1M1205 830.5h1M1066 831.5h1M1137 831.5h1M1141 832.5h1M1201 832.5h1M1351 832.5h1M1145 833.5h1M1197 833.5h1M1062 834.5h1M1149 834.5h1M1193 834.5h1M1153 835.5h1M1058 836.5h1M1157 836.5h1M1189 836.5h1M1352 836.5h1M1161 837.5h1M1185 837.5h1M1054 838.5h1M1165 838.5h1M1181 838.5h1M1169 839.5h1M1173 840.5h1M1177 840.5h1M1354 840.5h1M1050 841.5h1M1046 843.5h1M1356 844.5h1M1043 846.5h1M1358 848.5h1M1040 850.5h1M1360 852.5h1M1038 854.5h1M1362 856.5h1M1036 858.5h1M1363 860.5h1M1034 862.5h1M1365 864.5h1M1031 866.5h1M1368 868.5h1M1029 870.5h1M1370 872.5h1M1027 874.5h1M1372 876.5h1M1024 878.5h1M1374 880.5h1M1022 882.5h1M1376 884.5h1M1020 886.5h1M1379 888.5h1M1018 890.5h1M1381 892.5h1M1015 894.5h1M1383 896.5h1M1013 898.5h1M1385 900.5h1M1011 902.5h1M1387 904.5h1M1390 908.5h1M1392 912.5h1M1394 916.5h1M1396 920.5h1"/>
<path class="ln" stroke="#008b00" d="M1169 837.5h4M1176 837.5h1M1161 838.5h1M1165 838.5h1M1180 838.5h4M1154 839.5h1M1158 839.5h3M1187 839.5h1M1147 840.5h4M1191 840.5h4M1143 841.5h1M1198 841.5h1M1202 841.5h1M1137 842.5h3M1203 842.5h3M1136 843.5h1M1132 844.5h1M1209 844.5h1M1333 844.5h4M1128 845.5h1M1213 845.5h1M1340 845.5h1M1344 845.5h1M1125 846.5h3M1214 846.5h2M1345 846.5h3M1216 847.5h1M1329 847.5h1M1351 847.5h1M1355 847.5h2M1121 848.5h1M1220 848.5h1M1357 848.5h2M1362 848.5h1M1116 849.5h2M1324 849.5h2M1366 849.5h4M1373 849.5h1M1377 849.5h4M1384 849.5h1M1388 849.5h4M1395 849.5h1M1114 850.5h2M1224 850.5h2M1322 850.5h2M1110 851.5h1M1226 851.5h2M1093 852.5h3M1099 852.5h1M1103 852.5h4M1044 853.5h1M1048 853.5h4M1055 853.5h1M1059 853.5h4M1066 853.5h1M1070 853.5h4M1077 853.5h1M1081 853.5h4M1088 853.5h1M1092 853.5h1M1230 853.5h1M1318 853.5h1M1234 854.5h1M1235 855.5h3M1313 855.5h2M1039 856.5h2M1241 856.5h1M1312 856.5h1M1037 857.5h2M1245 857.5h3M1311 857.5h1M1248 858.5h1M1252 858.5h1M1256 859.5h3M1307 859.5h1M1033 860.5h1M1259 860.5h1M1263 860.5h1M1267 861.5h4M1303 861.5h1M1029 862.5h1M1274 862.5h1M1278 862.5h4M1285 862.5h1M1289 862.5h4M1301 862.5h2M1028 863.5h1M1296 863.5h1M1300 863.5h1M1026 864.5h2M1022 867.5h1M1018 869.5h1M1016 870.5h2M1015 871.5h1M1011 873.5h1"/>
<rect class="ax" x="995.5" y="943.5" width="98" height="96" fill="#fff"/>
<path class="ln" stroke="#000" d="M1010 962.5H1039"/>
<text x="1053" y="969.9">0°</text>
<path class="ln" stroke="#f00" stroke-dasharray="4 4" d="M1010 982.5H1039"/>
<text x="1053" y="988.9">45°</text>
<path class="ln" stroke="#00f" stroke-dasharray="1 3" d="M1010 1001.5H1039"/>
<text x="1053" y="1007.9">90°</text>
<path class="ln" stroke="#008b00" stroke-dasharray="1 3 4 3" d="M1010 1020.5H1039"/>
<text x="1053" y="1027.9">135°</text>
</g>
<g id="artifacts"><rect x="455" y="698" width="1" height="1" fill="#fff"/><rect x="406" y="913" width="1" height="1" fill="#fff"/><rect x="1523" y="578" width="1" height="1" fill="#333"/><rect x="1539" y="578" width="1" height="1" fill="#333"/></g>
</svg></body></html>
